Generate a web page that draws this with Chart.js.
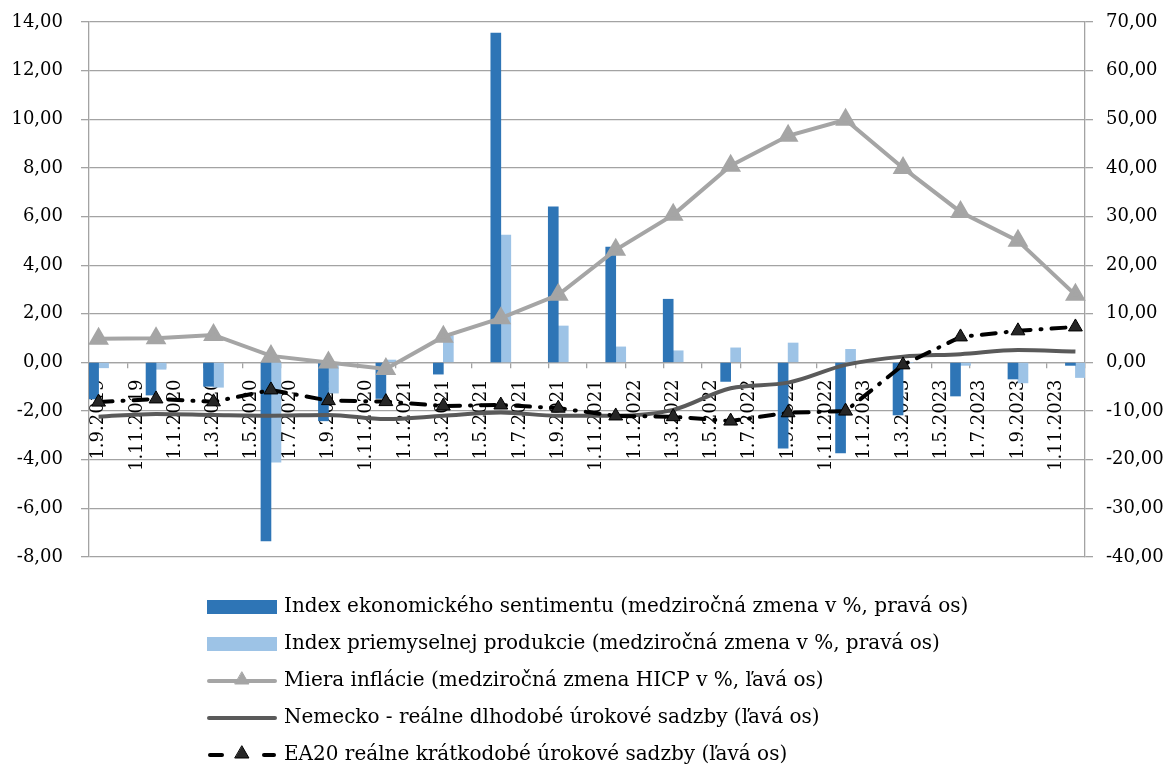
<!DOCTYPE html>
<html>
<head>
<meta charset="utf-8">
<script src="https://cdn.jsdelivr.net/npm/chart.js@4.4.1/dist/chart.umd.min.js"></script>
<style>
  html, body { margin: 0; padding: 0; background: #fff; }
  #wrap { width: 1173px; height: 767px; }
</style>
</head>
<body>
<div id="wrap"><canvas id="chart" width="1173" height="767"></canvas></div>
<script>
// quarterly observations, Sep 2019 .. Dec 2023
const sentiment  = [-7.5, -6.7, -4.9, -36.7, -12.0, -7.4, -2.4, 67.7, 32.0, 23.7, 13.0, -3.9, -17.6, -18.6, -10.8, -6.9, -3.4, -0.6];
const production = [-1.1, -1.4, -5.1, -20.5, -6.3, 0.5, 5.5, 26.2, 7.5, 3.2, 2.4, 3.0, 4.0, 2.7, 0.0, -0.6, -4.2, -3.1];
const inflation  = [0.97, 1.0, 1.13, 0.27, 0.0, -0.27, 1.06, 1.82, 2.78, 4.63, 6.07, 8.09, 9.32, 9.98, 8.0, 6.19, 5.0, 2.78];
const germany    = [-2.23, -2.12, -2.16, -2.19, -2.16, -2.33, -2.19, -2.06, -2.19, -2.19, -1.95, -1.06, -0.83, -0.1, 0.24, 0.34, 0.51, 0.45];
const ea20       = [-1.63, -1.5, -1.62, -1.13, -1.57, -1.61, -1.79, -1.75, -1.88, -2.2, -2.23, -2.41, -2.07, -2.0, -0.1, 1.05, 1.3, 1.46];

const seriesNames = [
    'Index ekonomického sentimentu (medziročná zmena v %, pravá os)',
    'Index priemyselnej produkcie (medziročná zmena v %, pravá os)',
    'Miera inflácie (medziročná zmena HICP v %, ľavá os)',
    'Nemecko - reálne dlhodobé úrokové sadzby (ľavá os)',
    'EA20 reálne krátkodobé úrokové sadzby (ľavá os)'
];

// monthly date axis, labelled every 2nd month
const months = [];
for (let y = 2019, m = 9; y < 2024; m++) {
    if (m > 12) { m = 1; y++; if (y === 2024) break; }
    months.push('1.' + m + '.' + y);
}

// put quarterly values on the monthly axis (every 3rd month)
function spread(values) {
    const out = months.map(() => null);
    values.forEach((v, i) => { out[i * 3] = v; });
    return out;
}

const FONT = 'DejaVu Serif';
const GRID = '#a3a3a3';
const fmt = v => v.toFixed(2).replace('.', ',');

function swatch(draw) {
    const c = document.createElement('canvas');
    c.width = 70; c.height = 20;
    draw(c.getContext('2d'));
    return c;
}
function tri(g, x, y, r, fill, stroke) {
    g.beginPath();
    g.moveTo(x, y - r);
    g.lineTo(x + r * 0.866, y + r * 0.5);
    g.lineTo(x - r * 0.866, y + r * 0.5);
    g.closePath();
    g.fillStyle = fill; g.fill();
    g.strokeStyle = stroke; g.lineWidth = 1; g.stroke();
}
const swatches = [
    swatch(g => { g.fillStyle = '#2E75B6'; g.fillRect(0, 3, 70, 14); }),
    swatch(g => { g.fillStyle = '#9DC3E6'; g.fillRect(0, 3, 70, 14); }),
    swatch(g => {
        g.strokeStyle = '#A5A5A5'; g.lineWidth = 4; g.lineCap = 'round';
        g.beginPath(); g.moveTo(2, 10); g.lineTo(68, 10); g.stroke();
        tri(g, 35, 9, 8, '#A5A5A5', '#A5A5A5');
    }),
    swatch(g => {
        g.strokeStyle = '#5A5A5A'; g.lineWidth = 4; g.lineCap = 'round';
        g.beginPath(); g.moveTo(2, 10); g.lineTo(68, 10); g.stroke();
    }),
    swatch(g => {
        g.strokeStyle = '#000'; g.lineWidth = 4; g.lineCap = 'round';
        g.beginPath(); g.moveTo(3, 10); g.lineTo(15, 10); g.stroke();
        g.beginPath(); g.moveTo(57, 10); g.lineTo(67, 10); g.stroke();
        tri(g, 35, 9, 8, '#262626', '#000');
    })
];

// legend sits left-aligned as one block under the plot
const legendPlacer = {
    id: 'legendPlacer',
    afterLayout(chart) {
        const lg = chart.legend;
        lg.left = 193;
        lg.right = 1173;
        lg.top = 580;
        lg.bottom = 767;
    }
};

// fixed axis widths; drop the label overhang padding so the plot starts at the top margin
function fixAxis(width) {
    return s => {
        s.width = width;
        s.paddingTop = 0;
        s.paddingBottom = 0;
    };
}

new Chart(document.getElementById('chart'), {
    type: 'bar',
    data: {
        labels: months,
        datasets: [{
            label: seriesNames[0],
            data: spread(sentiment),
            yAxisID: 'y1',
            backgroundColor: '#2E75B6',
            barThickness: 10,
            order: 3
        }, {
            label: seriesNames[1],
            data: spread(production),
            yAxisID: 'y1',
            backgroundColor: '#9DC3E6',
            barThickness: 10,
            order: 3
        }, {
            type: 'line',
            label: seriesNames[2],
            data: spread(inflation),
            yAxisID: 'y',
            borderColor: '#A5A5A5',
            borderWidth: 4,
            pointStyle: 'triangle',
            pointRadius: 8,
            pointBackgroundColor: '#A5A5A5',
            pointBorderColor: '#A5A5A5',
            spanGaps: true,
            order: 2
        }, {
            type: 'line',
            label: seriesNames[3],
            data: spread(germany),
            yAxisID: 'y',
            borderColor: '#5A5A5A',
            borderWidth: 4,
            pointRadius: 0,
            cubicInterpolationMode: 'monotone',
            spanGaps: true,
            order: 1
        }, {
            type: 'line',
            label: seriesNames[4],
            data: spread(ea20),
            yAxisID: 'y',
            borderColor: '#000',
            borderWidth: 4,
            borderDash: [14, 10, 1, 10],
            borderCapStyle: 'round',
            pointStyle: 'triangle',
            pointRadius: 8,
            pointBackgroundColor: '#262626',
            pointBorderColor: '#000',
            pointBorderWidth: 1,
            spanGaps: true,
            order: 0
        }]
    },
    options: {
        responsive: false,
        animation: false,
        devicePixelRatio: 1,
        layout: { padding: { top: 22, bottom: 15, left: 0, right: 0 } },
        plugins: {
            tooltip: { enabled: false },
            legend: {
                position: 'bottom',
                align: 'start',
                labels: {
                    usePointStyle: true,
                    pointStyleWidth: 64,
                    padding: 17,
                    color: '#000',
                    font: { family: FONT, size: 20 },
                    sort: (a, b) => a.datasetIndex - b.datasetIndex,
                    generateLabels(chart) {
                        const items = Chart.defaults.plugins.legend.labels.generateLabels(chart);
                        items.forEach(it => { it.pointStyle = swatches[it.datasetIndex]; });
                        return items;
                    }
                }
            }
        },
        scales: {
            x: {
                type: 'category',
                position: { y: 0 },
                offset: true,
                grid: {
                    offset: true,
                    drawOnChartArea: false,
                    tickLength: 5,
                    lineWidth: 1.3,
                    tickColor: c => (c.index % 2 ? 'rgba(0,0,0,0)' : GRID)
                },
                border: { color: GRID, width: 1.3 },
                ticks: {
                    autoSkip: false,
                    minRotation: 90,
                    maxRotation: 90,
                    padding: 12,
                    color: '#000',
                    font: { family: FONT, size: 18 },
                    callback(val, i) { return i % 2 ? '' : this.getLabelForValue(val); }
                }
            },
            y: {
                position: 'left',
                min: -8,
                max: 14,
                ticks: {
                    stepSize: 2,
                    padding: 18,
                    color: '#000',
                    font: { family: FONT, size: 18 },
                    callback: v => fmt(v)
                },
                grid: { color: GRID, lineWidth: 1.3, tickLength: 8 },
                border: { color: GRID, width: 1.3 },
                afterFit: fixAxis(89)
            },
            y1: {
                position: 'right',
                min: -40,
                max: 70,
                ticks: {
                    stepSize: 10,
                    padding: 13,
                    color: '#000',
                    font: { family: FONT, size: 18 },
                    callback: v => fmt(v)
                },
                grid: { drawOnChartArea: false, color: GRID, lineWidth: 1.3, tickLength: 8 },
                border: { color: GRID, width: 1.3 },
                afterFit: fixAxis(88)
            }
        }
    },
    plugins: [legendPlacer]
});
</script>
</body>
</html>
